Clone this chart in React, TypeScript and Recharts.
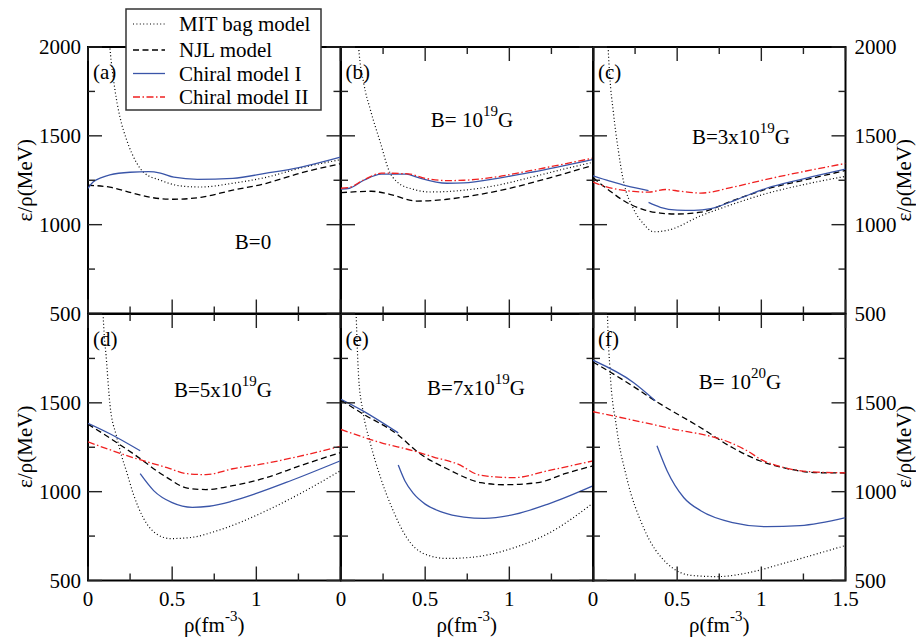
import React from "react";
import { LineChart, Line, XAxis, YAxis, ReferenceArea } from "recharts";

type Pt = [number, number];

// x ticks (rho, fm^-3) and y ticks (E/rho, MeV)
const xTicks = [0, 0.25, 0.5, 0.75, 1, 1.25, 1.5];
const yTicks = [500, 750, 1000, 1250, 1500, 1750, 2000];

// (a) B=0
const mitA: Pt[] = [[0.1, 2450], [0.13, 2000], [0.16, 1760], [0.19, 1605], [0.23, 1476], [0.29, 1346], [0.33, 1295], [0.43, 1250], [0.55, 1218], [0.67, 1212], [0.86, 1233], [1.06, 1267], [1.26, 1318], [1.5, 1366]];
const njlA: Pt[] = [[0, 1222], [0.13, 1211], [0.27, 1177], [0.37, 1154], [0.51, 1143], [0.67, 1154], [0.86, 1194], [1.06, 1233], [1.26, 1290], [1.5, 1343]];
const ch1A: Pt[] = [[0, 1205], [0.03, 1240], [0.08, 1265], [0.13, 1280], [0.25, 1295], [0.36, 1298], [0.43, 1290], [0.51, 1267], [0.65, 1255], [0.86, 1261], [1.06, 1290], [1.26, 1323], [1.5, 1380]];

// (b) B=1e19 G
const mitB: Pt[] = [[0.08, 2500], [0.105, 2000], [0.135, 1797], [0.175, 1645], [0.235, 1459], [0.284, 1307], [0.334, 1240], [0.43, 1199], [0.53, 1184], [0.73, 1194], [0.93, 1222], [1.13, 1267], [1.32, 1312], [1.5, 1352]];
const njlB: Pt[] = [[0, 1180], [0.18, 1188], [0.29, 1171], [0.45, 1133], [0.63, 1143], [0.83, 1171], [1.03, 1211], [1.23, 1261], [1.5, 1335]];
const ch1B: Pt[] = [[0, 1200], [0.05, 1205], [0.136, 1250], [0.24, 1284], [0.39, 1284], [0.45, 1267], [0.63, 1233], [0.73, 1235], [0.93, 1261], [1.13, 1295], [1.5, 1368]];
const ch2B: Pt[] = [[0, 1205], [0.05, 1210], [0.136, 1252], [0.24, 1290], [0.4, 1286], [0.5, 1261], [0.63, 1248], [0.73, 1250], [0.93, 1270], [1.13, 1305], [1.5, 1375]];

// (c) B=3e19 G
const mitC: Pt[] = [[0.075, 2500], [0.09, 2000], [0.1, 1830], [0.12, 1640], [0.15, 1420], [0.18, 1250], [0.24, 1090], [0.3, 1005], [0.36, 960], [0.45, 970], [0.64, 1050], [0.83, 1115], [1.03, 1175], [1.25, 1225], [1.5, 1272]];
const njlC: Pt[] = [[0, 1265], [0.1, 1190], [0.2, 1125], [0.3, 1085], [0.4, 1065], [0.5, 1060], [0.64, 1070], [0.83, 1135], [1.03, 1200], [1.25, 1250], [1.5, 1305]];
const ch1C1: Pt[] = [[0, 1275], [0.1, 1245], [0.2, 1218], [0.33, 1192]];
const ch1C2: Pt[] = [[0.33, 1125], [0.4, 1098], [0.5, 1082], [0.6, 1080], [0.7, 1090], [0.85, 1140], [1.03, 1205], [1.25, 1258], [1.5, 1312]];
const ch2C: Pt[] = [[0, 1240], [0.04, 1225], [0.24, 1187], [0.33, 1183], [0.43, 1198], [0.52, 1188], [0.64, 1178], [0.83, 1211], [1.03, 1255], [1.23, 1295], [1.5, 1345]];

// (d) B=5e19 G
const mitD: Pt[] = [[0.075, 2500], [0.09, 2000], [0.11, 1736], [0.13, 1494], [0.17, 1310], [0.2, 1200], [0.23, 1110], [0.27, 985], [0.33, 850], [0.41, 760], [0.49, 736], [0.61, 742], [0.77, 781], [1.06, 893], [1.26, 989], [1.5, 1118]];
const njlD: Pt[] = [[0, 1380], [0.1, 1320], [0.27, 1213], [0.47, 1079], [0.59, 1020], [0.7, 1012], [0.86, 1034], [1.06, 1079], [1.26, 1146], [1.5, 1220]];
const ch1D1: Pt[] = [[0, 1385], [0.13, 1326], [0.31, 1230]];
const ch1D2: Pt[] = [[0.31, 1101], [0.39, 1006], [0.5, 938], [0.62, 912], [0.72, 918], [0.85, 945], [1.0, 990], [1.2, 1060], [1.5, 1174]];
const ch2D: Pt[] = [[0, 1280], [0.27, 1191], [0.47, 1135], [0.59, 1101], [0.7, 1096], [0.86, 1129], [1.06, 1160], [1.26, 1200], [1.5, 1255]];

// (e) B=7e19 G
const mitE: Pt[] = [[0.075, 2500], [0.09, 2000], [0.105, 1640], [0.13, 1455], [0.175, 1270], [0.235, 1079], [0.31, 893], [0.39, 742], [0.49, 652], [0.63, 624], [0.77, 630], [1.03, 685], [1.23, 764], [1.5, 938]];
const njlE: Pt[] = [[0, 1515], [0.13, 1438], [0.33, 1326], [0.47, 1213], [0.63, 1129], [0.83, 1051], [0.97, 1039], [1.17, 1051], [1.33, 1101], [1.5, 1146]];
const ch1E1: Pt[] = [[0, 1520], [0.13, 1455], [0.34, 1331]];
const ch1E2: Pt[] = [[0.34, 1150], [0.38, 1060], [0.43, 990], [0.5, 930], [0.6, 885], [0.73, 857], [0.85, 850], [1.03, 872], [1.23, 930], [1.5, 1034]];
const ch2E: Pt[] = [[0, 1350], [0.24, 1275], [0.43, 1230], [0.55, 1195], [0.69, 1157], [0.83, 1092], [1.03, 1079], [1.23, 1118], [1.5, 1174]];

// (f) B=1e20 G
const mitF: Pt[] = [[0.075, 2600], [0.086, 2000], [0.1, 1700], [0.14, 1360], [0.2, 1079], [0.3, 798], [0.44, 596], [0.59, 528], [0.74, 522], [0.93, 545], [1.13, 596], [1.5, 697]];
const njlF: Pt[] = [[0, 1730], [0.04, 1708], [0.24, 1592], [0.37, 1511], [0.64, 1360], [0.83, 1247], [0.99, 1174], [1.13, 1135], [1.33, 1107], [1.5, 1105]];
const ch1F1: Pt[] = [[0, 1740], [0.24, 1615], [0.37, 1512]];
const ch1F2: Pt[] = [[0.38, 1258], [0.44, 1118], [0.54, 966], [0.64, 893], [0.83, 826], [1.03, 803], [1.23, 809], [1.5, 854]];
const ch2F: Pt[] = [[0, 1450], [0.44, 1360], [0.83, 1270], [0.92, 1228], [1.0, 1180], [1.13, 1137], [1.33, 1110], [1.5, 1106]];

const PX = [88, 340.5, 593];
const PY = [47, 313.5];
const PW = 252.5;
const PH = 266.5;
const PAD = 60;
const FONT = "'Liberation Serif', 'Times New Roman', serif";

const STY: Record<string, any> = {
  mit: { stroke: "#000", strokeDasharray: "1 2.4", strokeWidth: 1.2 },
  njl: { stroke: "#000", strokeDasharray: "6 3.5", strokeWidth: 1.3 },
  ch1: { stroke: "#3a55a8", strokeWidth: 1.3 },
  ch2: { stroke: "#f02020", strokeDasharray: "7 2.5 1.5 2.5", strokeWidth: 1.3 },
};

const panels = [
  { col: 0, row: 0, series: [["mit", mitA], ["njl", njlA], ["ch1", ch1A]] },
  { col: 1, row: 0, series: [["mit", mitB], ["njl", njlB], ["ch1", ch1B], ["ch2", ch2B]] },
  { col: 2, row: 0, series: [["mit", mitC], ["njl", njlC], ["ch1", ch1C1], ["ch1", ch1C2], ["ch2", ch2C]] },
  { col: 0, row: 1, series: [["mit", mitD], ["njl", njlD], ["ch1", ch1D1], ["ch1", ch1D2], ["ch2", ch2D]] },
  { col: 1, row: 1, series: [["mit", mitE], ["njl", njlE], ["ch1", ch1E1], ["ch1", ch1E2], ["ch2", ch2E]] },
  { col: 2, row: 1, series: [["mit", mitF], ["njl", njlF], ["ch1", ch1F1], ["ch1", ch1F2], ["ch2", ch2F]] },
] as { col: number; row: number; series: [string, Pt[]][] }[];

const toRows = (pts: Pt[]) => pts.map(([rho, e]) => ({ rho, e }));

// tick marks point inward on all four sides; the tick itself gives the bottom/left position
function XTick(props: any) {
  const { x, y, payload, col, row } = props;
  const v = payload.value;
  const major = Math.abs(v * 2 - Math.round(v * 2)) < 1e-6;
  const len = major ? 14 : 7;
  const show = row === 1 && major && (v < 1.4 || col === 2);
  return (
    <g>
      <line x1={x} y1={y} x2={x} y2={y - len} stroke="#222" strokeWidth={1.4} />
      <line x1={x} y1={y - PH} x2={x} y2={y - PH + len} stroke="#222" strokeWidth={1.4} />
      {show && (
        <text x={x} y={y + 18} textAnchor="middle" dominantBaseline="central" fontFamily={FONT} fontSize={21} fill="#000">
          {String(v)}
        </text>
      )}
    </g>
  );
}

function YTick(props: any) {
  const { x, y, payload, col, row } = props;
  const v = payload.value;
  const major = v % 500 === 0;
  const len = major ? 14 : 7;
  const showRow = row === 0 || v < 2000;
  return (
    <g>
      <line x1={x} y1={y} x2={x + len} y2={y} stroke="#222" strokeWidth={1.4} />
      <line x1={x + PW} y1={y} x2={x + PW - len} y2={y} stroke="#222" strokeWidth={1.4} />
      {major && showRow && col === 0 && (
        <text x={x - 7} y={y} textAnchor="end" dominantBaseline="central" fontFamily={FONT} fontSize={21} fill="#000">
          {v}
        </text>
      )}
      {major && showRow && col === 2 && (
        <text x={x + PW + 9} y={y} textAnchor="start" dominantBaseline="central" fontFamily={FONT} fontSize={21} fill="#000">
          {v}
        </text>
      )}
    </g>
  );
}

function Panel({ col, row, series }: { col: number; row: number; series: [string, Pt[]][] }) {
  return (
    <div style={{ position: "absolute", left: PX[col] - PAD, top: PY[row] - PAD }}>
      <LineChart width={PW + 2 * PAD} height={PH + 2 * PAD} margin={{ top: PAD, right: PAD, bottom: PAD - 1, left: PAD - 1 }}>
        <XAxis
          type="number"
          dataKey="rho"
          domain={[0, 1.5]}
          ticks={xTicks}
          interval={0}
          allowDataOverflow
          height={1}
          tickSize={0}
          tickMargin={0}
          tickLine={false}
          axisLine={false}
          tick={<XTick col={col} row={row} />}
        />
        <YAxis
          type="number"
          dataKey="e"
          domain={[500, 2000]}
          ticks={yTicks}
          interval={0}
          allowDataOverflow
          width={1}
          tickSize={0}
          tickMargin={0}
          tickLine={false}
          axisLine={false}
          tick={<YTick col={col} row={row} />}
        />
        {series.map(([kind, pts], i) => (
          <Line
            key={i}
            data={toRows(pts)}
            dataKey="e"
            type="monotone"
            dot={false}
            activeDot={false}
            isAnimationActive={false}
            fill="none"
            {...STY[kind]}
          />
        ))}
        <ReferenceArea x1={0} x2={1.5} y1={500} y2={2000} fill="none" fillOpacity={0} stroke="#000" strokeWidth={2} ifOverflow="visible" />
      </LineChart>
    </div>
  );
}

const tags = ["(a)", "(b)", "(c)", "(d)", "(e)", "(f)"];

const legendItems: [string, string][] = [
  ["mit", "MIT bag model"],
  ["njl", "NJL model"],
  ["ch1", "Chiral model I"],
  ["ch2", "Chiral model II"],
];

function BLabel({ x, y, pre, exp, post }: { x: number; y: number; pre: string; exp?: string; post?: string }) {
  return (
    <text x={x} y={y} textAnchor="middle" dominantBaseline="central" fontFamily={FONT} fontSize={21} fill="#000">
      {pre}
      {exp && (
        <tspan dy={-9} fontSize={15}>
          {exp}
        </tspan>
      )}
      {post && <tspan dy={exp ? 9 : 0}>{post}</tspan>}
    </text>
  );
}

export default function App() {
  const legendY = [24, 50, 73.5, 97];
  return (
    <div style={{ position: "absolute", left: 0, top: 0, width: 916, height: 639, background: "#fff", overflow: "hidden" }}>
      {panels.map((p, i) => (
        <Panel key={i} col={p.col} row={p.row} series={p.series} />
      ))}
      <svg width={916} height={639} style={{ position: "absolute", left: 0, top: 0, pointerEvents: "none" }}>
        {tags.map((t, i) => (
          <text key={t} x={PX[i % 3] + 5} y={PY[Math.floor(i / 3)] + 25} dominantBaseline="central" fontFamily={FONT} fontSize={21} fill="#000">
            {t}
          </text>
        ))}
        <BLabel x={253} y={242} pre="B=0" />
        <BLabel x={472} y={120} pre="B= 10" exp="19" post="G" />
        <BLabel x={741} y={137} pre="B=3x10" exp="19" post="G" />
        <BLabel x={223} y={390} pre="B=5x10" exp="19" post="G" />
        <BLabel x={476} y={388} pre="B=7x10" exp="19" post="G" />
        <BLabel x={740} y={382} pre="B= 10" exp="20" post="G" />

        {[0, 1].map((r) => {
          const cy = PY[r] + PH / 2;
          return (
            <g key={r}>
              <text transform={`rotate(-90 25 ${cy})`} x={25} y={cy} textAnchor="middle" dominantBaseline="central" fontFamily={FONT} fontSize={21} fill="#000">
                ε/ρ(MeV)
              </text>
              <text transform={`rotate(-90 904 ${cy})`} x={904} y={cy} textAnchor="middle" dominantBaseline="central" fontFamily={FONT} fontSize={21} fill="#000">
                ε/ρ(MeV)
              </text>
            </g>
          );
        })}
        {[0, 1, 2].map((c) => (
          <text key={c} x={PX[c] + PW / 2} y={625} textAnchor="middle" dominantBaseline="central" fontFamily={FONT} fontSize={21} fill="#000">
            ρ(fm
            <tspan dy={-9} fontSize={15}>-3</tspan>
            <tspan dy={9}>)</tspan>
          </text>
        ))}

        <rect x={126} y={9} width={195} height={101} fill="#fff" stroke="#333" strokeWidth={1.5} />
        {legendItems.map(([kind, label], i) => (
          <g key={kind}>
            <line x1={133} x2={165} y1={legendY[i]} y2={legendY[i]} {...STY[kind]} />
            <text x={179} y={legendY[i]} dominantBaseline="central" fontFamily={FONT} fontSize={21} fill="#000">
              {label}
            </text>
          </g>
        ))}
      </svg>
    </div>
  );
}
